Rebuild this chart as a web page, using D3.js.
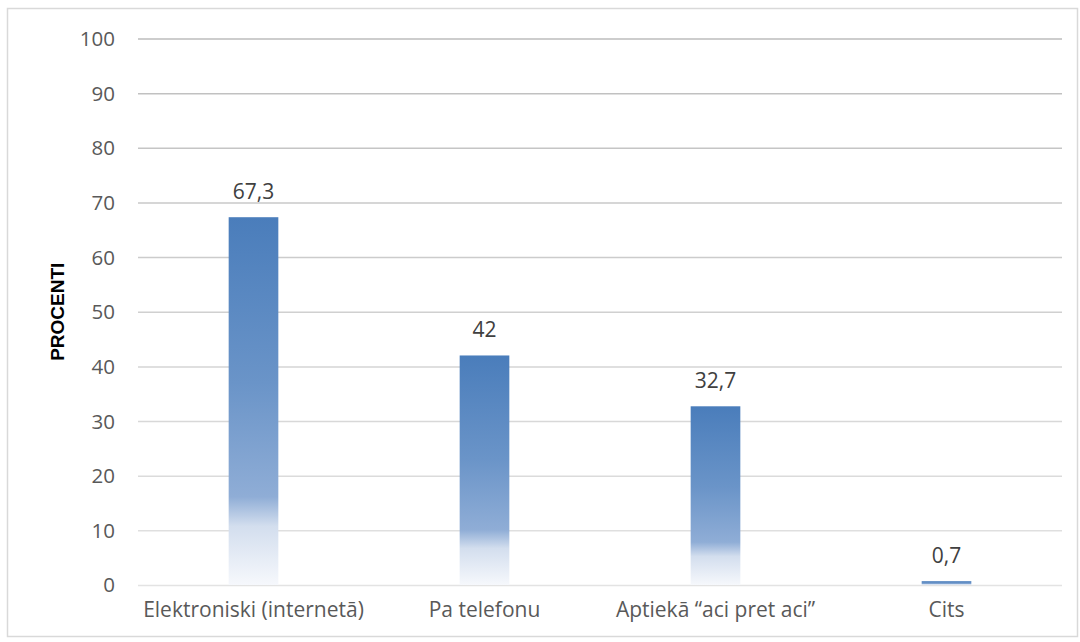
<!DOCTYPE html>
<html>
<head>
<meta charset="utf-8">
<script src="https://cdn.jsdelivr.net/npm/d3@7/dist/d3.min.js"></script>
<style>
  html, body { margin: 0; padding: 0; background: #fff; }
  svg { display: block; }
</style>
</head>
<body>
<svg id="chart" width="1080" height="642"></svg>
<script>
// Survey answers: how the respondents got in touch
const categories = ["Elektroniski (internetā)", "Pa telefonu", "Aptiekā \u201caci pret aci\u201d", "Cits"];
const values = [67.3, 42, 32.7, 0.7];
const valueLabels = ["67,3", "42", "32,7", "0,7"];
const yTicks = [0, 10, 20, 30, 40, 50, 60, 70, 80, 90, 100];
const yTitle = "PROCENTI";

const FONT = "'Open Sans', sans-serif";
const svg = d3.select("#chart");

// outer frame
svg.append("rect")
  .attr("x", 7.5).attr("y", 8.5)
  .attr("width", 1070).attr("height", 628)
  .attr("fill", "#fff").attr("stroke", "#d9d9d9").attr("stroke-width", 1.5);

const plot = { left: 138, right: 1062, top: 38.5, bottom: 585 };

const x = d3.scaleBand().domain(categories).range([plot.left, plot.right]).paddingInner(0.785).paddingOuter(0.3925);
const y = d3.scaleLinear().domain([0, 100]).range([plot.bottom, plot.top]);

// bar fill: deep blue at the top fading out to white toward the base
const defs = svg.append("defs");
const grad = defs.append("linearGradient").attr("id", "barFill")
  .attr("x1", 0).attr("y1", 0).attr("x2", 0).attr("y2", 1);
[[0, "#4a7dbb"], [0.45, "#6a94c8"], [0.76, "#8fadd6"], [0.84, "#d3deee"], [1, "#f6f8fc"]]
  .forEach(([o, c]) => grad.append("stop").attr("offset", o).attr("stop-color", c));

// gridlines, darker at the top and lighter toward the base
const gridColor = d3.scaleLinear().domain([0, 100]).range(["#e3e3e3", "#bdbdbd"]);
const yAxis = d3.axisLeft(y).tickValues(yTicks).tickSize(-(plot.right - plot.left)).tickPadding(23).tickFormat(d3.format("d"));
const gy = svg.append("g").attr("transform", `translate(${plot.left},0)`).call(yAxis);
gy.select(".domain").remove();
gy.selectAll(".tick line").attr("stroke", d => gridColor(d)).attr("stroke-width", 1.5);
gy.selectAll(".tick text").attr("fill", "#595959").attr("font-family", FONT).attr("font-size", 20.5).attr("dy", "0.34em");

// bars
svg.append("g").selectAll("rect").data(values).join("rect")
  .attr("x", (d, i) => x(categories[i]))
  .attr("y", d => y(d))
  .attr("width", x.bandwidth())
  .attr("height", d => y(0) - y(d))
  .attr("fill", "url(#barFill)");

// value labels
svg.append("g").selectAll("text").data(values).join("text")
  .attr("x", (d, i) => x(categories[i]) + x.bandwidth() / 2)
  .attr("y", d => y(d) - 18)
  .attr("text-anchor", "middle")
  .attr("fill", "#404040")
  .attr("font-family", FONT).attr("font-size", 21)
  .text((d, i) => valueLabels[i]);

// category axis
const gx = svg.append("g").attr("transform", `translate(0,${plot.bottom})`)
  .call(d3.axisBottom(x).tickSize(0).tickPadding(17));
gx.select(".domain").remove();
gx.selectAll(".tick text").attr("fill", "#595959").attr("font-family", FONT).attr("font-size", 21).attr("dy", "0.71em");

// y axis title
svg.append("text")
  .attr("transform", `translate(64,${(plot.top + plot.bottom) / 2}) rotate(-90)`)
  .attr("text-anchor", "middle")
  .attr("fill", "#000")
  .attr("font-family", "'Liberation Sans', Arial, sans-serif").attr("font-weight", "bold").attr("font-size", 19)
  .text(yTitle);
</script>
</body>
</html>
